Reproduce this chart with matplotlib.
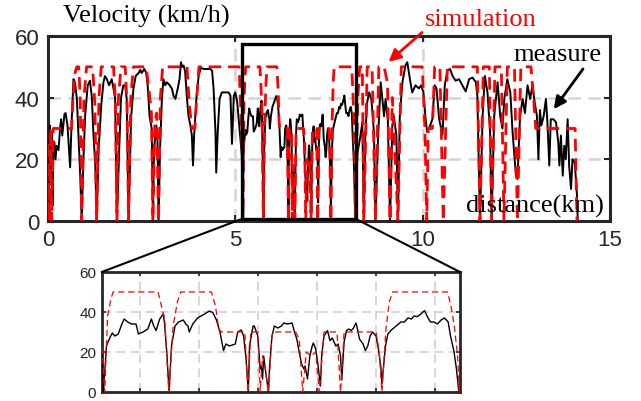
import matplotlib
matplotlib.use("Agg")
import numpy as np
import matplotlib.pyplot as plt
from matplotlib.patches import Rectangle, ConnectionPatch

# measured speed (km, km/h)
measure_km = [0.01, 0.03, 0.05, 0.08, 0.10, 0.12, 0.14, 0.17, 0.20, 0.23, 0.28, 0.32, 0.35, 0.38,
              0.44, 0.47, 0.52, 0.56, 0.59, 0.63, 0.68, 0.72, 0.77, 0.81, 0.86, 0.90, 0.94, 0.99,
              1.06, 1.12, 1.17, 1.21, 1.26, 1.30, 1.35, 1.42, 1.48, 1.52, 1.57, 1.63, 1.70, 1.75,
              1.79, 1.84, 1.90, 1.95, 2.01, 2.06, 2.10, 2.15, 2.22, 2.28, 2.34, 2.42, 2.46, 2.50,
              2.57, 2.62, 2.66, 2.71, 2.77, 2.80, 2.83, 2.89, 2.92, 2.95, 2.99, 3.04, 3.08, 3.13,
              3.17, 3.25, 3.31, 3.35, 3.40, 3.46, 3.51, 3.55, 3.58, 3.62, 3.66, 3.71, 3.75, 3.80,
              3.84, 3.87, 3.90, 3.96, 4.02, 4.08, 4.15, 4.24, 4.33, 4.38, 4.42, 4.47, 4.49, 4.53,
              4.58, 4.64, 4.73, 4.82, 4.87, 4.91, 4.96, 5.00, 5.05, 5.09, 5.15,
              5.183, 5.194, 5.22, 5.25, 5.27, 5.29, 5.32, 5.35, 5.37, 5.40, 5.43, 5.47, 5.49, 5.53,
              5.57, 5.60, 5.62, 5.64, 5.67, 5.70, 5.71, 5.73, 5.75, 5.77, 5.80, 5.83, 5.87, 5.89,
              5.91, 5.92, 5.95, 5.99, 6.05, 6.09, 6.12, 6.15, 6.18, 6.21, 6.23, 6.26, 6.31, 6.33,
              6.36, 6.38, 6.40, 6.42, 6.43, 6.46, 6.47, 6.50, 6.52, 6.53, 6.54, 6.55, 6.56, 6.59,
              6.60, 6.62, 6.64, 6.67, 6.70, 6.72, 6.75, 6.79, 6.81, 6.83, 6.85, 6.87, 6.89, 6.90,
              6.92, 6.94, 6.96, 6.97, 6.99, 7.01, 7.03, 7.04, 7.06, 7.09, 7.11, 7.13, 7.16, 7.18,
              7.20, 7.21, 7.23, 7.25, 7.27, 7.29, 7.31, 7.33, 7.34, 7.36, 7.39, 7.41, 7.43, 7.45,
              7.47, 7.50, 7.52, 7.54, 7.55, 7.58, 7.60, 7.63, 7.67, 7.71, 7.74, 7.77, 7.80, 7.82,
              7.85, 7.88, 7.91, 7.94, 7.96, 7.99, 8.02, 8.05, 8.08, 8.11, 8.13, 8.16, 8.18, 8.20,
              8.26, 8.34, 8.39, 8.43, 8.47, 8.52, 8.57, 8.63, 8.70, 8.74, 8.81, 8.88, 8.93, 8.97,
              9.01, 9.07, 9.13, 9.19, 9.23, 9.30, 9.34, 9.39, 9.46, 9.54, 9.59, 9.66, 9.72, 9.81,
              9.90, 9.96, 10.02, 10.08, 10.12, 10.17, 10.26, 10.32, 10.37, 10.44, 10.53, 10.59,
              10.66, 10.73, 10.80, 10.88, 10.97, 11.06, 11.15, 11.24, 11.33, 11.42, 11.46, 11.53,
              11.60, 11.66, 11.73, 11.80, 11.84, 11.91, 12.00, 12.07, 12.13, 12.18, 12.26, 12.34,
              12.40, 12.49, 12.53, 12.60, 12.67, 12.73, 12.80, 12.87, 12.93, 12.99, 13.05, 13.09,
              13.13, 13.17, 13.23, 13.29, 13.33, 13.38, 13.42, 13.49, 13.56, 13.62, 13.65, 13.69,
              13.74, 13.78, 13.82, 13.87, 13.91, 13.96, 14.00, 14.06, 14.12, 14.14]
measure_v = [0, 23, 31, 12.5, 28.8, 5, 21, 25.5, 20, 24.4, 23, 29.8, 33, 27.7,
             34.7, 35, 31, 23, 17.4, 32, 46, 45, 39.6, 28.8, 14.7, 0, 18, 34,
             44, 45.5, 40, 28.8, 18.5, 0, 23, 37.4, 45, 47, 46, 44, 46, 42.8,
             40, 0, 23, 40, 44, 44, 39.6, 0, 34, 42.8, 47, 48, 49, 48,
             49.3, 48, 44, 34, 29.8, 0, 23, 31, 27.7, 0, 23, 39.6, 46, 44,
             45, 44, 42.8, 40.6, 39.6, 42.8, 46, 51.5, 50, 50.4, 48.5, 39.6, 34, 31,
             27.7, 18, 27.7, 39.6, 47, 49.8, 49.3, 49.3, 49.3, 48.7, 42.8, 28.8, 15.7, 28.8,
             39.6, 41.7, 41.7, 41.7, 40.6, 25, 40.6, 41.7, 38.5, 33, 25,
             20, 0, 23, 27.3, 29.5, 28, 29, 34, 36.5, 35, 34, 34, 29, 30,
             31.5, 36.5, 33, 30.7, 36.5, 39, 35, 20, 0, 23, 33, 35, 36, 34,
             33, 30, 34, 37, 39, 40.5, 39.7, 36, 30, 20.7, 24, 23, 24, 30,
             31, 28, 17, 0, 23, 33, 33, 28, 11.5, 13, 6.5, 18, 13, 0,
             13, 28, 33, 32, 33, 34.5, 34, 34.5, 30, 26.5, 20, 14, 11.5, 13,
             6.5, 18, 23, 24.5, 21.5, 13, 3, 18, 28, 30.7, 25.7, 27, 23, 24,
             18, 6, 25, 30.7, 31.5, 30.7, 32, 34.5, 32.3, 26.5, 24, 20.7, 23, 28,
             30, 28, 21.5, 13, 4, 23, 29, 31, 33, 35, 35, 37, 36.5, 38,
             37.7, 39, 40.7, 37, 35, 35, 34, 36, 37, 35, 28, 20, 11.5, 0,
             22, 27.7, 32, 0, 28, 38.5, 41.7, 39.6, 28.8, 0, 27, 45, 39, 34,
             39.6, 33, 0, 31, 34, 27.7, 0, 34, 45, 50.4, 51.5, 46, 41.7, 44,
             43, 44, 41.7, 33, 28.8, 30, 33, 44, 43, 33, 28, 44,
             48.8, 49.3, 47, 45.5, 46, 44, 42, 46, 46.5, 45, 40.6, 0,
             34, 47, 41.7, 28.8, 0, 34, 45, 34, 30, 39.6, 46, 41.7,
             28.8, 14.7, 13.6, 34, 39.6, 35, 44, 39.6, 44, 38.5, 34, 20,
             36, 31, 34, 39.6, 32, 18, 33, 33, 32, 25.5, 18, 27.7,
             14.7, 24.4, 20, 33, 18, 10.4, 20, 19, 8.2, 0]

# simulated speed (km, km/h)
sim_km = [0.00, 0.03, 0.07, 0.10, 0.14, 0.63, 0.66, 0.72, 0.77, 0.82, 0.86, 0.90,
          0.96, 1.03, 1.19, 1.25, 1.30, 1.36, 1.42, 1.75, 1.80, 1.84, 1.88, 1.95, 2.06,
          2.11, 2.15, 2.21, 2.28, 2.62, 2.70, 2.76, 2.80, 2.85, 2.90, 2.95, 3.00, 3.06,
          3.71, 3.77, 3.84, 3.92, 3.97, 4.03, 5.10, 5.15,
          5.183, 5.205, 5.23, 5.256, 5.276, 5.657, 5.685, 5.713, 5.747, 5.784, 5.82, 5.848,
          6.108, 6.142, 6.17, 6.192, 6.39, 6.418, 6.44, 6.50, 6.52, 6.54, 6.56, 6.59, 6.62,
          6.63, 6.82, 6.85, 6.88, 6.91, 6.95, 6.99, 7.02, 7.06, 7.17, 7.20, 7.23, 7.50,
          7.527, 7.55, 7.584, 7.612, 7.64, 8.105, 8.134, 8.162, 8.19, 8.204,
          8.27, 8.32, 8.39, 8.43, 8.52, 8.65, 8.74, 8.83, 8.97, 9.06, 9.13, 9.19, 9.23,
          9.34, 9.43, 9.99, 10.06, 10.11, 10.15, 10.26, 10.32, 10.46, 10.55, 10.66,
          11.46, 11.53, 11.62, 11.78, 11.84, 11.93, 12.10, 12.17, 12.26, 12.45, 12.53,
          12.62, 12.89, 12.96, 13.02, 14.07, 14.12]
sim_v = [25, 0, 30, 0, 30, 30, 38, 48, 50, 50, 40, 0,
         40, 50, 50, 38, 0, 40, 50, 50, 38, 0, 40, 50, 50,
         38, 0, 40, 50, 50, 42, 35, 0, 32, 35, 0, 40, 50,
         50, 38, 30, 30, 40, 50, 50, 35,
         22, 0, 38, 46, 50, 50, 43, 36.5, 0, 33, 45, 50,
         50, 43, 31.5, 30, 30, 0, 30, 30, 0, 18, 13, 0, 28,
         30, 30, 26.5, 0, 20, 18, 20, 0, 30, 30, 0, 30, 30,
         20, 0, 31.5, 45, 50, 50, 43, 33, 18, 0,
         40, 50, 50, 0, 50, 50, 0, 50, 50, 45, 0, 40, 30,
         0, 50, 50, 30, 0, 30, 30, 50, 50, 0, 50,
         50, 0, 50, 50, 0, 50, 50, 0, 50, 50, 0,
         50, 50, 40, 30, 30, 0]

zoom_lo, zoom_hi = 5.18, 8.21
inset_ticks = [5.5, 6.0, 6.5, 7.0, 7.5, 8.0]

sans = ['Liberation Sans', 'DejaVu Sans']
serif = ['Liberation Serif', 'DejaVu Serif']
axcol = '#262626'
gridcol = '#d4d4d4'

fig = plt.figure(figsize=(6.41, 4.02), dpi=100)
ax = fig.add_axes([0.0749, 0.4478, 0.8767, 0.4602])

ax.plot(measure_km, measure_v, color='black', lw=1.4, zorder=3)
ax.plot(sim_km, sim_v, color='red', lw=2.0, ls=(0, (4.5, 2.5)), zorder=4)
ax.set_xlim(0, 15)
ax.set_ylim(0, 60)
ax.set_xticks([0, 5, 10, 15])
ax.set_yticks([0, 20, 40, 60])
ax.set_axisbelow(True)
ax.grid(True, color=gridcol, ls=(0, (5, 3)), lw=1.8)
ax.tick_params(direction='in', length=4, width=1.5, top=True, right=True,
               labelsize=16, colors=axcol, pad=6)
for lab in ax.get_xticklabels() + ax.get_yticklabels():
    lab.set_family(sans)
for sp in ax.spines.values():
    sp.set_linewidth(2.2)
    sp.set_color(axcol)

ax.add_patch(Rectangle((zoom_lo, 0.7), zoom_hi - zoom_lo, 56.8, fill=False,
                       edgecolor='black', lw=2.4, zorder=6))

ax.text(0.4, 66.5, 'Velocity (km/h)', family=serif, fontsize=19, ha='left', va='center',
        clip_on=False)
ax.annotate('simulation', xy=(9.09, 51.6), xytext=(11.55, 65.5), color='red',
            family=serif, fontsize=19, ha='center', va='center', annotation_clip=False,
            arrowprops=dict(arrowstyle='-|>', color='red', lw=2, mutation_scale=18,
                            shrinkA=0, shrinkB=0, relpos=(0.0, 0.0)))
ax.text(13.6, 54.2, 'measure', family=serif, fontsize=19, ha='center', va='center')
ax.annotate('', xy=(13.5, 36.3), xytext=(14.28, 49.3), annotation_clip=False,
            arrowprops=dict(arrowstyle='-|>', color='black', lw=2, mutation_scale=18,
                            shrinkA=0, shrinkB=0))
ax.text(13.0, 4.9, 'distance(km)', family=serif, fontsize=19, ha='center', va='center',
        zorder=7)

# zoomed inset
axin = fig.add_axes([0.1587, 0.0224, 0.5589, 0.2985])
axin.plot(measure_km, measure_v, color='black', lw=1.0, zorder=3)
axin.plot(sim_km, sim_v, color='red', lw=0.9, ls=(0, (5, 3)), zorder=4)
axin.set_xlim(zoom_lo, zoom_hi)
axin.set_ylim(0, 60)
axin.set_xticks(inset_ticks)
axin.set_xticklabels([])
axin.set_yticks([0, 20, 40, 60])
axin.set_axisbelow(True)
axin.grid(True, color=gridcol, ls=(0, (5, 3)), lw=1.3)
axin.tick_params(direction='in', length=3, width=1.2, top=True, right=True,
                 labelsize=11, colors=axcol, pad=4)
for lab in axin.get_yticklabels():
    lab.set_family(sans)
for sp in axin.spines.values():
    sp.set_linewidth(2.0)
    sp.set_color(axcol)

for xa, xb in [(zoom_lo, 0), (zoom_hi, 1)]:
    con = ConnectionPatch(xyA=(xa, 0.7), coordsA=ax.transData,
                          xyB=(xb, 1), coordsB=axin.transAxes,
                          color='black', lw=1.5)
    fig.add_artist(con)

fig.savefig('out.png', dpi=100)
